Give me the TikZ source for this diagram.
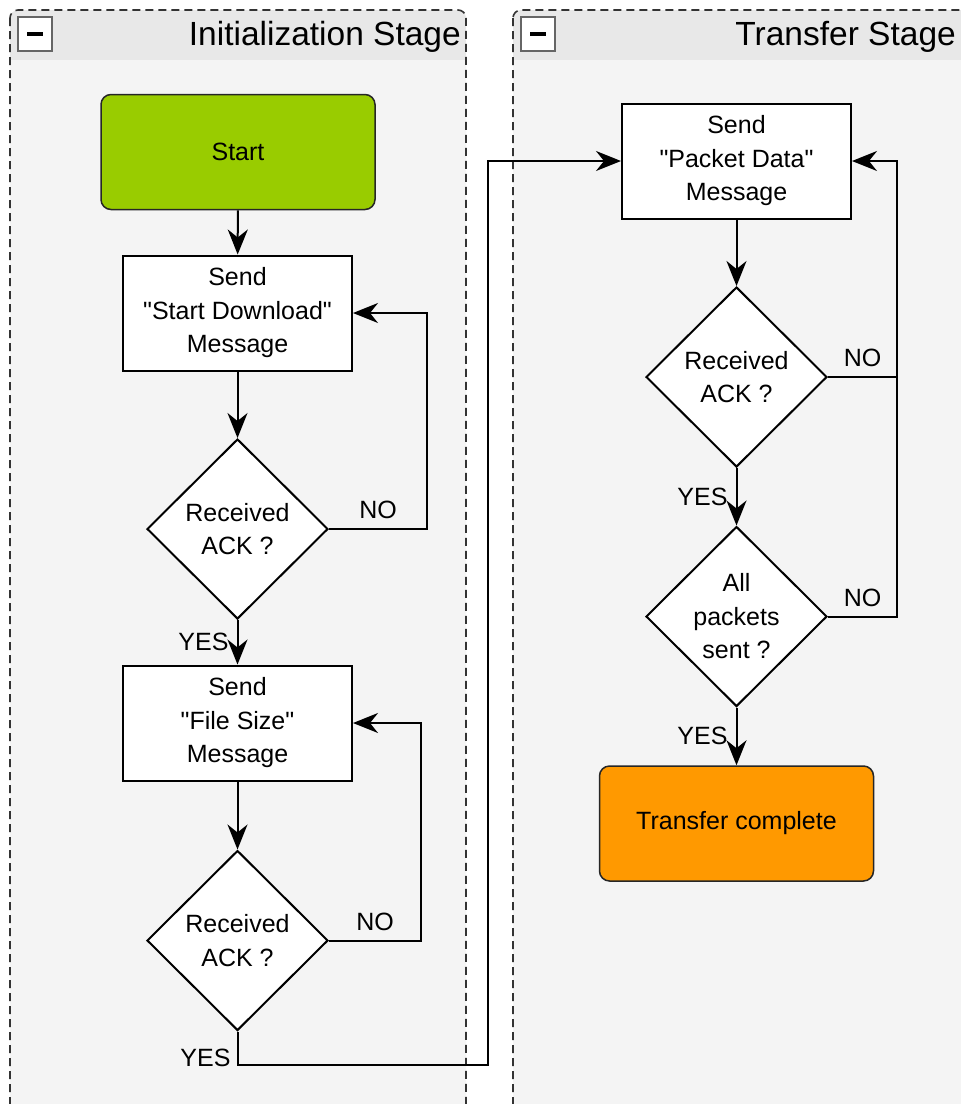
\documentclass[tikz,border=0pt]{standalone}
\usepackage{fontspec}
\newfontfamily\flowfont{Liberation Sans}
\usetikzlibrary{shapes.geometric,arrows.meta}
\definecolor{lanebody}{HTML}{F4F4F4}
\definecolor{lanehead}{HTML}{E8E8E8}
\definecolor{startgreen}{HTML}{99CC00}
\definecolor{doneorange}{HTML}{FF9900}
\begin{document}
\begin{tikzpicture}[x=1pt,y=-1pt,
    txt/.style={font=\flowfont\fontsize{25}{33.5}\selectfont},
    proc/.style={txt,draw,line width=2pt,fill=white,minimum width=229pt,minimum height=115pt,align=center},
    term/.style={proc,rounded corners=10pt,line width=1.5pt,draw=black!85,minimum width=274pt},
    ask/.style={txt,diamond,draw,line width=2pt,fill=white,minimum width=181pt,minimum height=180pt,inner sep=0pt,align=center},
    arr/.style={line width=2pt,-{Stealth[length=25pt,width=20pt,inset=8pt]}},
    lbl/.style={txt,inner sep=0pt}]
    \clip (0,0) rectangle (961,1104);
    \foreach \a/\b/\e/\t in {10/466/461/{Initialization Stage},513/1010/956/{Transfer Stage}}{
      \fill[lanehead,rounded corners=8pt] (\a,10) rectangle (\b,1130);
      \fill[lanebody] (\a,60) rectangle (\b,1130);
      \draw[black!80,line width=1.6pt,dash pattern=on 8pt off 5pt,rounded corners=8pt] (\a,10) rectangle (\b,1130);
      \draw[black!60,line width=1.5pt,fill=white] (\a+8,17) rectangle (\a+42,51);
      \draw[line width=3.5pt] (\a+17,34) -- (\a+33,34);
      \node[font=\flowfont\fontsize{33.5}{40}\selectfont,anchor=east,inner sep=0pt] (head\a) at (\e,37) {\t};
    }
    \node[term,fill=startgreen] (start) at (238,152) {Start};
    \node[proc] (sendstart) at (237.5,313) {Send\\"Start Download"\\Message};
    \node[ask] (ack1) at (237.5,529) {Received\\ACK ?};
    \node[proc] (sendsize) at (237.5,723) {Send\\"File Size"\\Message};
    \node[ask] (ack2) at (237.5,940.5) {Received\\ACK ?};
    \node[proc] (sendpacket) at (736.5,161) {Send\\"Packet Data"\\Message};
    \node[ask] (ack3) at (736.5,377) {Received\\ACK ?};
    \node[ask] (allsent) at (736.5,616.5) {All\\packets\\sent ?};
    \node[term,fill=doneorange] (done) at (736.5,823.5) {Transfer complete};
    \coordinate (jump) at (488,1064);
    \draw[arr] (start) -- (sendstart);
    \draw[arr] (sendstart) -- (ack1);
    \draw[arr] (ack1.east) -- node[lbl,above=9pt] (no1) {NO} ++(98,0) |- (sendstart.east);
    \draw[arr] (ack1.south) -- node[lbl,left=8pt] (yes1) {YES} (sendsize.north);
    \draw[arr] (sendsize) -- (ack2);
    \draw[arr] (ack2.east) -- node[lbl,above=9pt] (no2) {NO} ++(92,0) |- (sendsize.east);
    \draw[arr] (ack2.south) -- node[lbl,left=6pt,pos=0.8] (yes2) {YES} ++(0,33.5) -| (jump) |- (sendpacket.west);
    \draw[arr] (sendpacket) -- (ack3);
    \draw[arr] (ack3.east) -- node[lbl,above=9pt] (no3) {NO} ++(69,0) coordinate (back) |- (sendpacket.east);
    \draw[arr] (ack3.south) -- node[lbl,left=8pt] (yes3) {YES} (allsent.north);
    \draw[line width=2pt] (allsent.east) -- node[lbl,above=9pt] (no4) {NO} ++(69,0) -- (back);
    \draw[arr] (allsent.south) -- node[lbl,left=8pt] (yes4) {YES} (done.north);
\end{tikzpicture}
\end{document}
